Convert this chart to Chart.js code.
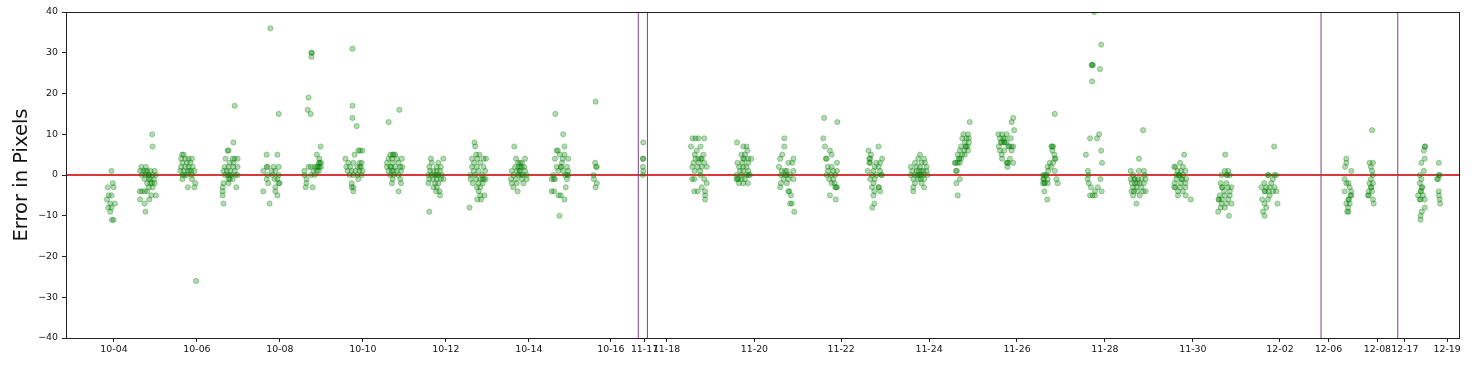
<!DOCTYPE html>
<html>
<head>
<meta charset="utf-8">
<script src="https://cdn.jsdelivr.net/npm/chart.js@4/dist/chart.umd.min.js"></script>
<style>
  html, body { margin: 0; padding: 0; background: #fff; }
  #wrap { width: 1475px; height: 367px; }
</style>
</head>
<body>
<div id="wrap"><canvas id="err-chart" width="1475" height="367"></canvas></div>
<script>
// ════════════════════════════════════════════════════
//  DATA  (x = compressed time in days from 10-04, y = error in px)
// ════════════════════════════════════════════════════

const tickPos    = [0, 2.0, 4.0, 6.0, 8.0, 10.0, 11.98, 12.79, 13.32, 15.44, 17.53, 19.65, 21.77, 23.89, 26.01, 28.11, 29.28, 30.46, 31.12, 32.14];
const tickLabels = ['10-04','10-06','10-08','10-10','10-12','10-14','10-16','11-17','11-18','11-20','11-22','11-24','11-26','11-28','11-30','12-02','12-06','12-08','12-17','12-19'];
const breakLines = [12.64, 12.86, 29.10, 30.95];
const xMin = -1.157, xMax = 32.45;
const yTicks = [-40, -30, -20, -10, 0, 10, 20, 30, 40];

const oct04 = [[-0.06,1],[-0.03,-2],[-0.15,-3],[-0.01,-3],[-0.13,-5],[-0.06,-5],[-0.17,-6],[-0.09,-7],[0.02,-7],[-0.14,-8],[-0.06,-8],[-0.09,-9],[-0.05,-11],[-0.01,-11]];
const oct05 = [[0.92,10],[0.93,7],[0.66,2],[0.77,2],[0.63,1],[0.71,1],[0.80,1],[0.88,1],[0.98,1],[0.76,1],[0.67,0],[0.76,0],[0.84,0],[0.93,0],[1.01,0],[0.84,0],[0.74,-1],[0.84,-1],[0.96,-1],[0.88,-1],[0.80,-2],[0.88,-2],[0.98,-2],[0.92,-2],[0.84,-3],[0.93,-3],[0.62,-4],[0.67,-4],[0.74,-4],[0.80,-4],[0.90,-5],[1.01,-5],[0.63,-6],[0.85,-6],[0.74,-7],[0.76,-9]];
const oct06 = [[1.64,5],[1.68,5],[1.62,4],[1.72,4],[1.80,4],[1.88,4],[1.65,3],[1.76,3],[1.84,3],[1.62,2],[1.72,2],[1.80,2],[1.90,2],[1.60,1],[1.68,1],[1.78,1],[1.86,1],[1.94,1],[1.82,1],[1.65,0],[1.76,0],[1.88,0],[1.70,0],[1.65,-1],[1.88,-1],[1.96,-2],[1.78,-3],[1.94,-3],[1.98,-26]];
const oct07 = [[2.91,17],[2.88,8],[2.74,6],[2.76,6],[2.69,4],[2.86,4],[2.91,4],[2.98,4],[2.79,3],[2.88,3],[2.67,2],[2.76,2],[2.88,2],[2.98,2],[2.64,1],[2.72,1],[2.80,1],[2.91,1],[2.67,0],[2.74,0],[2.83,0],[2.93,0],[2.98,0],[2.79,0],[2.79,-1],[2.86,-1],[2.76,-1],[2.64,-2],[2.76,-2],[2.62,-3],[2.95,-3],[2.62,-4],[2.62,-5],[2.64,-7]];
const oct08 = [[3.77,36],[3.97,15],[3.68,5],[3.94,5],[3.68,2],[3.70,2],[3.85,2],[3.97,2],[3.60,1],[3.80,1],[3.89,1],[3.70,0],[3.82,0],[3.97,0],[3.68,-1],[3.87,-1],[3.94,-1],[3.72,-2],[3.99,-2],[3.97,-2],[3.89,-3],[3.60,-4],[3.89,-4],[3.94,-5],[3.75,-7]];
const oct09 = [[4.76,30],[4.77,30],[4.76,29],[4.69,19],[4.67,16],[4.74,15],[4.98,7],[4.89,5],[4.95,4],[4.94,3],[4.99,3],[4.96,3],[4.69,2],[4.75,2],[4.84,2],[4.89,2],[4.95,2],[4.99,2],[4.92,2],[4.59,1],[4.81,1],[4.89,1],[4.94,1],[4.59,0],[4.75,0],[4.84,0],[4.64,-1],[4.64,-2],[4.62,-3],[4.79,-3]];
const oct10 = [[5.75,31],[5.75,17],[5.75,14],[5.85,12],[5.89,6],[5.93,6],[5.99,6],[5.58,4],[5.80,5],[5.65,3],[5.77,3],[5.92,3],[5.97,3],[5.60,2],[5.69,2],[5.87,2],[5.93,2],[5.95,2],[5.63,1],[5.73,1],[5.82,1],[5.92,1],[5.99,1],[5.68,0],[5.77,0],[5.87,0],[5.97,0],[5.89,-1],[5.73,-2],[5.73,-3],[5.77,-3],[5.77,-4]];
const oct11 = [[6.62,13],[6.88,16],[6.66,5],[6.74,5],[6.78,5],[6.72,5],[6.62,4],[6.70,4],[6.82,4],[6.94,4],[6.58,3],[6.72,3],[6.86,3],[6.58,2],[6.66,2],[6.78,2],[6.90,2],[6.95,2],[6.68,2],[6.62,1],[6.70,1],[6.82,1],[6.92,1],[6.74,1],[6.66,0],[6.74,0],[6.86,0],[6.72,-1],[6.90,-1],[6.70,-2],[6.92,-2],[6.86,-4]];
const oct12 = [[7.60,-9],[7.64,4],[7.94,4],[7.66,3],[7.82,3],[7.60,2],[7.78,2],[7.88,2],[7.62,1],[7.70,1],[7.78,1],[7.86,1],[7.58,0],[7.66,0],[7.74,0],[7.82,0],[7.90,0],[7.78,0],[7.60,-1],[7.69,-1],[7.78,-1],[7.88,-1],[7.94,-1],[7.58,-2],[7.74,-2],[7.82,-2],[7.70,-3],[7.78,-3],[7.77,-4],[7.85,-4],[7.86,-5]];
const oct13 = [[8.57,-8],[8.69,8],[8.71,7],[8.73,5],[8.81,5],[8.63,4],[8.76,4],[8.91,4],[8.97,4],[8.68,3],[8.83,3],[8.63,2],[8.75,2],[8.91,2],[8.67,1],[8.79,1],[8.95,1],[8.59,0],[8.71,0],[8.87,0],[8.60,-1],[8.73,-1],[8.83,-1],[8.92,-1],[8.96,-1],[8.89,-1],[8.65,-2],[8.79,-2],[8.89,-2],[8.75,-3],[8.83,-3],[8.79,-4],[8.83,-5],[8.93,-5],[8.76,-6],[8.85,-6]];
const oct14 = [[9.65,7],[9.69,4],[9.91,4],[9.74,3],[9.79,3],[9.83,3],[9.67,2],[9.75,2],[9.83,2],[9.89,2],[9.80,2],[9.59,1],[9.71,1],[9.79,1],[9.91,1],[9.77,1],[9.63,0],[9.75,0],[9.86,0],[9.95,0],[9.81,0],[9.57,-1],[9.69,-1],[9.83,-1],[9.95,-1],[9.59,-2],[9.71,-2],[9.87,-2],[9.63,-3],[9.73,-4]];
const oct15 = [[10.64,15],[10.74,-10],[10.83,10],[10.86,7],[10.67,6],[10.70,6],[10.75,5],[10.86,5],[10.63,4],[10.82,4],[10.95,4],[10.80,3],[10.67,2],[10.77,2],[10.92,2],[10.78,2],[10.71,1],[10.83,1],[10.95,1],[10.59,0],[10.87,0],[10.95,0],[10.93,0],[10.55,-1],[10.63,-1],[10.60,-1],[10.92,-1],[10.89,-3],[10.55,-4],[10.61,-4],[10.72,-5],[10.77,-5],[10.86,-6]];
const oct16 = [[11.61,18],[11.60,3],[11.64,2],[11.62,2],[11.56,0],[11.57,-1],[11.64,-2],[11.61,-3]];
const nov17 = [[12.76,8],[12.75,4],[12.76,4],[12.75,2],[12.76,1],[12.75,0]];
const nov19 = [[13.95,9],[14.02,9],[14.09,9],[14.23,9],[13.91,7],[14.14,7],[14.05,6],[14.00,5],[14.21,5],[14.02,4],[14.17,4],[14.09,4],[14.15,4],[13.97,3],[14.10,3],[14.23,3],[13.94,2],[14.07,2],[14.17,2],[14.29,2],[14.00,1],[14.13,1],[14.14,0],[13.94,-1],[13.99,-1],[14.23,-1],[14.29,-2],[14.17,-3],[13.99,-4],[14.07,-4],[14.25,-4],[14.25,-5],[14.25,-6]];
const nov20 = [[15.02,8],[15.17,7],[15.25,7],[15.27,6],[15.13,5],[15.21,5],[15.17,4],[15.19,4],[15.29,4],[15.36,4],[15.03,3],[15.15,3],[15.29,3],[15.07,2],[15.17,2],[15.25,2],[15.09,1],[15.17,1],[15.29,1],[15.01,0],[15.13,0],[15.25,0],[15.33,0],[15.30,0],[15.01,-1],[15.03,-1],[15.05,-1],[15.13,-1],[15.21,-1],[15.07,-2],[15.17,-2],[15.28,-2]];
const nov21 = [[16.16,9],[16.16,7],[16.11,5],[16.06,4],[16.38,4],[16.26,3],[16.35,3],[16.03,2],[16.10,1],[16.22,1],[16.38,1],[16.18,1],[16.08,0],[16.18,0],[16.30,0],[16.22,0],[16.14,-1],[16.26,-1],[16.38,-1],[16.08,-2],[16.22,-2],[16.06,-3],[16.26,-4],[16.28,-4],[16.32,-5],[16.30,-7],[16.34,-7],[16.40,-9]];
const nov22 = [[17.12,14],[17.44,13],[17.10,9],[17.14,7],[17.26,6],[17.30,5],[17.16,4],[17.18,4],[17.43,3],[17.21,2],[17.30,2],[17.22,1],[17.34,1],[17.43,1],[17.18,0],[17.29,0],[17.39,0],[17.24,-1],[17.34,-1],[17.30,-2],[17.37,-2],[17.39,-3],[17.41,-3],[17.43,-3],[17.26,-5],[17.40,-6]];
const nov23 = [[18.43,7],[18.19,6],[18.25,5],[18.21,4],[18.23,4],[18.52,4],[18.21,3],[18.23,3],[18.47,3],[18.38,3],[18.34,2],[18.43,2],[18.17,1],[18.31,1],[18.47,1],[18.27,0],[18.38,0],[18.51,0],[18.50,0],[18.23,-1],[18.34,-1],[18.31,-2],[18.27,-3],[18.43,-3],[18.44,-3],[18.33,-4],[18.47,-4],[18.31,-5],[18.33,-7],[18.28,-8]];
const nov24 = [[19.43,5],[19.39,4],[19.53,4],[19.31,3],[19.47,3],[19.55,3],[19.21,2],[19.35,2],[19.43,2],[19.59,2],[19.25,1],[19.35,1],[19.47,1],[19.59,1],[19.41,1],[19.51,1],[19.21,0],[19.31,0],[19.41,0],[19.51,0],[19.61,0],[19.37,0],[19.45,0],[19.27,-1],[19.39,-1],[19.53,-1],[19.45,-1],[19.31,-2],[19.47,-2],[19.27,-3],[19.53,-3],[19.27,-4]];
const nov25 = [[20.63,13],[20.48,10],[20.59,10],[20.45,9],[20.55,9],[20.61,9],[20.51,8],[20.61,8],[20.42,7],[20.53,7],[20.54,7],[20.58,7],[20.39,6],[20.50,6],[20.59,6],[20.34,5],[20.45,5],[20.51,5],[20.37,4],[20.38,4],[20.42,4],[20.27,3],[20.29,3],[20.34,3],[20.39,3],[20.30,1],[20.32,1],[20.39,-1],[20.31,-2],[20.34,-5]];
const nov26 = [[21.68,14],[21.64,13],[21.70,11],[21.62,9],[21.32,10],[21.41,10],[21.52,10],[21.36,9],[21.48,9],[21.44,9],[21.38,8],[21.40,8],[21.46,8],[21.47,8],[21.52,8],[21.33,7],[21.56,7],[21.58,7],[21.64,7],[21.68,7],[21.36,6],[21.46,6],[21.64,6],[21.40,5],[21.41,4],[21.60,4],[21.52,3],[21.54,3],[21.56,3],[21.68,3],[21.54,2]];
const nov27 = [[22.68,15],[22.60,7],[22.62,7],[22.64,7],[22.62,6],[22.67,5],[22.68,4],[22.70,4],[22.56,3],[22.64,3],[22.51,2],[22.59,2],[22.52,1],[22.68,1],[22.44,0],[22.48,0],[22.40,0],[22.40,-1],[22.42,-1],[22.51,-1],[22.72,-1],[22.40,-2],[22.43,-2],[22.44,-2],[22.51,-2],[22.75,-2],[22.43,-4],[22.50,-6]];
const nov28 = [[23.63,40],[23.80,32],[23.57,27],[23.58,27],[23.60,27],[23.77,26],[23.58,23],[23.53,9],[23.70,9],[23.75,10],[23.80,6],[23.43,5],[23.82,3],[23.48,1],[23.49,0],[23.47,-1],[23.78,-1],[23.50,-2],[23.55,-3],[23.72,-3],[23.65,-4],[23.81,-4],[23.53,-5],[23.59,-5],[23.65,-5]];
const nov29 = [[24.81,11],[24.71,4],[24.51,1],[24.71,1],[24.83,1],[24.57,0],[24.85,0],[24.51,-1],[24.61,-1],[24.69,-1],[24.77,-1],[24.87,-1],[24.60,-1],[24.54,-2],[24.62,-2],[24.73,-2],[24.83,-2],[24.67,-2],[24.57,-3],[24.65,-3],[24.77,-3],[24.53,-4],[24.59,-4],[24.67,-4],[24.81,-4],[24.87,-4],[24.57,-5],[24.73,-5],[24.65,-7]];
const nov30 = [[25.80,5],[25.70,3],[25.56,2],[25.59,2],[25.77,2],[25.64,1],[25.72,1],[25.83,1],[25.61,0],[25.67,0],[25.68,0],[25.77,0],[25.61,-1],[25.74,-1],[25.75,-1],[25.85,-1],[25.57,-2],[25.72,-2],[25.83,-2],[25.56,-3],[25.59,-3],[25.70,-3],[25.83,-3],[25.65,-4],[25.77,-4],[25.65,-5],[25.84,-5],[25.96,-6]];
const dec01 = [[26.79,5],[26.78,1],[26.86,1],[26.70,0],[26.82,0],[26.84,0],[26.90,0],[26.68,-2],[26.82,-2],[26.71,-3],[26.72,-3],[26.86,-3],[26.94,-3],[26.76,-4],[26.90,-4],[26.66,-5],[26.78,-5],[26.90,-5],[26.63,-6],[26.64,-6],[26.71,-6],[26.86,-6],[26.70,-7],[26.82,-7],[26.94,-7],[26.68,-8],[26.78,-8],[26.62,-9],[26.88,-10]];
const dec02 = [[27.97,7],[27.82,0],[27.83,0],[27.97,0],[28.02,0],[27.94,-1],[27.73,-2],[27.90,-2],[27.66,-3],[27.78,-3],[27.86,-3],[27.98,-3],[27.74,-4],[27.75,-4],[27.84,-4],[27.94,-4],[28.02,-4],[27.86,-5],[27.68,-6],[27.82,-6],[28.05,-7],[27.74,-7],[27.78,-8],[27.70,-9],[27.74,-10]];
const dec07 = [[29.71,4],[29.71,3],[29.68,2],[29.83,1],[29.67,-1],[29.71,-2],[29.76,-2],[29.79,-3],[29.67,-4],[29.83,-4],[29.81,-5],[29.83,-5],[29.76,-6],[29.77,-6],[29.71,-7],[29.79,-7],[29.75,-8],[29.73,-9],[29.76,-9]];
const dec08 = [[30.33,11],[30.27,3],[30.35,3],[30.30,2],[30.33,1],[30.35,0],[30.30,-1],[30.27,-2],[30.35,-2],[30.30,-3],[30.31,-3],[30.25,-4],[30.33,-4],[30.23,-5],[30.25,-5],[30.35,-6],[30.37,-7]];
const dec18 = [[31.60,7],[31.61,7],[31.58,6],[31.60,4],[31.52,3],[31.58,1],[31.48,0],[31.52,-1],[31.48,-2],[31.53,-3],[31.54,-3],[31.50,-4],[31.51,-4],[31.56,-5],[31.44,-5],[31.48,-6],[31.50,-6],[31.60,-6],[31.60,-8],[31.53,-9],[31.50,-10],[31.50,-11]];
const dec19 = [[31.94,3],[31.94,0],[31.96,0],[31.90,-1],[31.92,-1],[31.94,-4],[31.94,-5],[31.96,-6],[31.97,-7]];

const allDays = [oct04, oct05, oct06, oct07, oct08, oct09, oct10, oct11, oct12, oct13, oct14, oct15, oct16,
                 nov17, nov19, nov20, nov21, nov22, nov23, nov24, nov25, nov26, nov27, nov28, nov29, nov30,
                 dec01, dec02, dec07, dec08, dec18, dec19];

// ════════════════════════════════════════════════════
//  CHART
// ════════════════════════════════════════════════════

const FONT = 'DejaVu Sans';
const points = allDays.flat().map(([x, y]) => ({ x, y }));

const frame = {
  id: 'frame',
  afterDatasetsDraw(chart) {
    const { ctx, chartArea: a } = chart;
    ctx.save();
    ctx.strokeStyle = '#222';
    ctx.lineWidth = 1;
    ctx.strokeRect(Math.round(a.left) + 0.5, Math.round(a.top) + 0.5, Math.round(a.right - a.left) - 1, Math.round(a.bottom - a.top));
    ctx.restore();
  }
};

const datasets = [
  {
    label: 'error',
    data: points,
    pointRadius: 2.6,
    pointBorderWidth: 1,
    backgroundColor: 'rgba(0,128,0,0.3)',
    borderColor: 'rgba(0,128,0,0.32)',
    order: 0,
  },
  {
    label: 'zero',
    data: [{ x: xMin, y: 0 }, { x: xMax, y: 0 }],
    showLine: true,
    pointRadius: 0,
    borderColor: '#d83a3a',
    borderWidth: 2,
    order: 2,
  },
  ...breakLines.map(b => ({
    label: 'break',
    data: [{ x: b, y: -40 }, { x: b, y: 40 }],
    showLine: true,
    pointRadius: 0,
    borderColor: '#803d88',
    borderWidth: 1,
    order: 1,
  })),
];

new Chart(document.getElementById('err-chart'), {
  type: 'scatter',
  data: { datasets },
  plugins: [frame],
  options: {
    responsive: false,
    animation: false,
    layout: { padding: { left: 0, top: 12, right: 15, bottom: 0 } },
    plugins: { legend: { display: false }, tooltip: { enabled: false } },
    scales: {
      x: {
        type: 'linear',
        min: xMin,
        max: xMax,
        afterBuildTicks: s => { s.ticks = tickPos.map(v => ({ value: v })); },
        afterFit: s => { s.height = 29; },
        border: { display: false },
        grid: { drawOnChartArea: false, drawTicks: true, tickLength: 4, color: '#222' },
        ticks: {
          autoSkip: false, maxRotation: 0, padding: 2,
          color: '#111', font: { family: FONT, size: 9.4 },
          callback: (v, i) => tickLabels[i],
        },
      },
      y: {
        min: -40,
        max: 40,
        afterBuildTicks: s => { s.ticks = yTicks.map(v => ({ value: v })); },
        afterFit: s => { s.width = 66; },
        border: { display: false },
        grid: { drawOnChartArea: false, drawTicks: true, tickLength: 4, color: '#222' },
        ticks: {
          padding: 4, color: '#111', font: { family: FONT, size: 9.4 },
          callback: v => v < 0 ? '\u2212' + Math.abs(v) : String(v),
        },
        title: {
          display: true, text: 'Error in Pixels', color: '#111',
          font: { family: FONT, size: 19.5 }, padding: { top: 10, bottom: 0 },
        },
      },
    },
  },
});
</script>
</body>
</html>
